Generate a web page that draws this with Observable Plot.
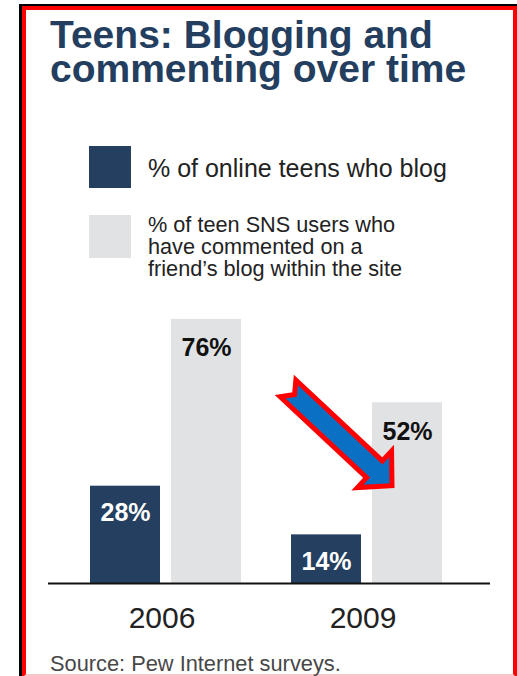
<!DOCTYPE html>
<html>
<head>
<meta charset="utf-8">
<title>Teens: Blogging and commenting over time</title>
<script src="https://cdn.jsdelivr.net/npm/d3@7"></script>
<script src="https://cdn.jsdelivr.net/npm/@observablehq/plot@0.6"></script>
<style>
  html, body { margin: 0; padding: 0; background: #fff; }
  body {
    width: 517px; height: 676px; position: relative; overflow: hidden;
    font-family: "Liberation Sans", Arial, Helvetica, sans-serif;
  }
  #edge { position: absolute; left: 19px; top: 4px; width: 520px; height: 700px; background: #000; }
  #card {
    position: absolute; left: 22px; top: 6px; width: 495px; height: 672px;
    box-sizing: border-box; border: 4px solid #ff0000; border-bottom-color: #f6c6c6; background: #fff;
  }
  .title-line {
    position: absolute; left: 50px; white-space: nowrap;
    font-size: 39px; line-height: 30px; font-weight: bold; color: #233e5e;
  }
  .swatch { position: absolute; left: 89px; width: 42px; height: 42px; }
  .legend-text { position: absolute; left: 148px; color: #222; white-space: nowrap; }
  #lt0 { top: 155.5px; font-size: 25px; line-height: 25px; }
  #lt1 { top: 213.5px; font-size: 21.7px; line-height: 22px; }
  #chart { position: absolute; left: 0; top: 290px; }
  #source {
    position: absolute; left: 50px; top: 652.5px; white-space: nowrap;
    font-size: 21.8px; line-height: 22px; color: #474747;
  }
</style>
</head>
<body>
<div id="edge"></div>
<div id="card"></div>
<div id="title"></div>
<div id="legend"></div>
<div id="chart"></div>
<div id="source"></div>
<script>
// Survey years and the two measured shares (percent)
const years = [2006, 2009];
const seriesKeys = ["blog", "comment"];
const blogShare = [28, 14];      // % of online teens who blog
const commentShare = [76, 52];   // % of teen SNS users who commented on a friend's blog
const seriesColors = ["#243f5f", "#e1e2e4"];
const legendLabels = [
  ["% of online teens who blog"],
  ["% of teen SNS users who", "have commented on a", "friend\u2019s blog within the site"]
];
const titleLines = ["Teens: Blogging and", "commenting over time"];
const sourceNote = "Source: Pew Internet surveys.";

// Title, one block per line
const title = document.getElementById("title");
titleLines.forEach((line, i) => {
  const el = document.createElement("div");
  el.className = "title-line";
  el.style.top = (20 + i * 34) + "px";
  el.textContent = line;
  title.appendChild(el);
});

// Legend swatches and labels
const legend = document.getElementById("legend");
const swatchTops = [146, 215];
seriesKeys.forEach((key, i) => {
  const sw = document.createElement("div");
  sw.className = "swatch";
  sw.style.top = swatchTops[i] + "px";
  sw.style.height = (i === 0 ? 42 : 43) + "px";
  sw.style.background = seriesColors[i];
  legend.appendChild(sw);
  const tx = document.createElement("div");
  tx.className = "legend-text";
  tx.id = "lt" + i;
  tx.innerHTML = legendLabels[i].join("<br>");
  legend.appendChild(tx);
});
document.getElementById("source").textContent = sourceNote;

// One row per year and series
const rows = years.flatMap((year, i) => [
  {year, series: seriesKeys[0], value: blogShare[i]},
  {year, series: seriesKeys[1], value: commentShare[i]}
]);

const chart = Plot.plot({
  width: 517,
  height: 345,
  marginTop: 15,
  marginBottom: 52,
  marginLeft: 48,
  marginRight: 27,
  fx: {domain: years, paddingInner: 0.249, paddingOuter: 0.224, align: 0.467, axis: null},
  x: {domain: seriesKeys, paddingInner: 0.136, paddingOuter: 0, axis: null},
  y: {domain: [0, 80], axis: null},
  color: {domain: seriesKeys, range: seriesColors},
  style: {fontFamily: "'Liberation Sans', Arial, Helvetica, sans-serif", background: "transparent"},
  marks: [
    Plot.barY(rows, {fx: "year", x: "series", y: "value", fill: "series"}),
    Plot.text(rows.filter(d => d.series === "blog"), {
      fx: "year", x: "series", y: "value", text: d => `${d.value}%`,
      dy: 27, fill: "#ffffff", fontSize: 25, fontWeight: "bold"
    }),
    Plot.text(rows.filter(d => d.series === "comment"), {
      fx: "year", x: "series", y: "value", text: d => `${d.value}%`,
      dy: 29, fill: "#111111", fontSize: 25, fontWeight: "bold"
    }),
    // Baseline, extended past the bar groups on each side
    Plot.ruleY([years[0]], {fx: d => d, y: () => 0, insetLeft: -42, insetRight: -25, stroke: "#111", strokeWidth: 2}),
    Plot.ruleY([years[1]], {fx: d => d, y: () => 0, insetLeft: -25, insetRight: -48, stroke: "#111", strokeWidth: 2}),
    // Year labels under each group
    Plot.text(years, {
      fx: d => d, text: d => String(d), frameAnchor: "bottom", lineAnchor: "bottom",
      dy: 44, dx: -4, fontSize: 30, fill: "#222"
    })
  ]
});
document.getElementById("chart").appendChild(chart);

// Block arrow pointing down to the 2009 comment bar, placed with the chart's scales
const fxS = chart.scale("fx"), yS = chart.scale("y");
const group = fxS.apply(years[1]);
const tail = [group - 3, yS.apply(2 * blogShare[0])];
const tip = [group + fxS.bandwidth - 50, yS.apply(blogShare[0])];
const dxA = tip[0] - tail[0], dyA = tip[1] - tail[1];
const len = Math.hypot(dxA, dyA);
const u = [dxA / len, dyA / len], n = [-u[1], u[0]];
const shaft = 11.5, head = 25, headLen = 24, notch = 9;
const base = [tip[0] - u[0] * headLen, tip[1] - u[1] * headLen];
const pt = (p, a, b) => [p[0] + u[0] * a + n[0] * b, p[1] + u[1] * a + n[1] * b];
const outline = [
  pt(tail, 0, shaft), pt(tail, notch, 0), pt(tail, 0, -shaft),
  pt(base, 0, -shaft), pt(base, 0, -head), tip, pt(base, 0, head), pt(base, 0, shaft)
];
d3.select(chart).append("polygon")
  .attr("points", outline.map(p => p.join(",")).join(" "))
  .attr("fill", "#0a70c4")
  .attr("stroke", "#ff0000")
  .attr("stroke-width", 5)
  .attr("stroke-linejoin", "miter");
</script>
</body>
</html>
